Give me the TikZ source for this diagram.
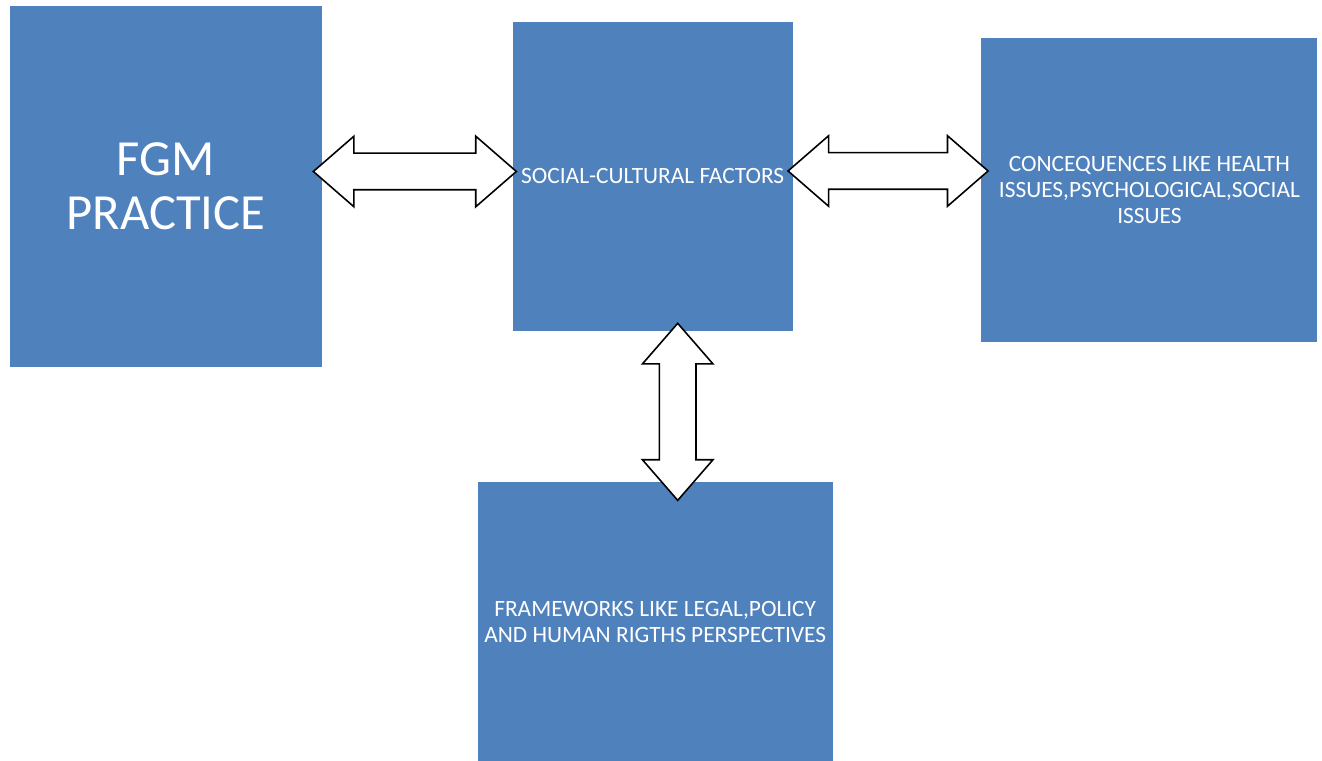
\documentclass[tikz,border=0pt]{standalone}
\usepackage{fontspec}
\setmainfont{Carlito}
\usetikzlibrary{positioning,calc,shapes.arrows}
\definecolor{boxblue}{RGB}{79,129,189}

\begin{document}
\begin{tikzpicture}[
    factor/.style={rectangle, fill=boxblue, text=white, align=center, inner sep=0pt, font=\fontsize{13.3}{14.9}\selectfont},
    link/.style={double arrow, draw=black, fill=white, line width=0.9pt, inner sep=0pt, inner ysep=0.35cm, double arrow head extend=0.34cm, double arrow tip angle=82},
    node distance=3.8cm
]
    \useasboundingbox (0,0) rectangle (26.44,15.22);
    \node[factor, minimum width=6.24cm, minimum height=7.22cm, font=\fontsize{28.8}{30.8}\selectfont] (fgm) at (3.32,11.49) {FGM\\PRACTICE};
    \node[factor, minimum width=5.6cm, minimum height=6.18cm, right=3.8cm of fgm, yshift=0.2cm] (social) {SOCIAL-CULTURAL FACTORS};
    \node[factor, minimum width=6.72cm, minimum height=6.08cm, right=3.76cm of social, yshift=-0.27cm] (effects) {CONCEQUENCES LIKE HEALTH\\ISSUES,PSYCHOLOGICAL,SOCIAL\\ISSUES};
    \node[factor, minimum width=7.1cm, minimum height=5.6cm, below=3cm of social, xshift=0.05cm] (frames) {FRAMEWORKS LIKE LEGAL,POLICY\\AND HUMAN RIGTHS PERSPECTIVES};
    % two-way links
    \node[link, minimum height=4.06cm] (l1) at ($(fgm.east)!.5!(social.west)+(-0.05,0.2)$) {};
    \node[link, minimum height=4cm] (l2) at ($(social.east)!.5!(effects.west)+(0.02,0.245)$) {};
    \node[link, minimum height=3.54cm, rotate=90] (l3) at ($(social.south)!.5!(frames.north)+(0.475,-0.11)$) {};
\end{tikzpicture}
\end{document}
